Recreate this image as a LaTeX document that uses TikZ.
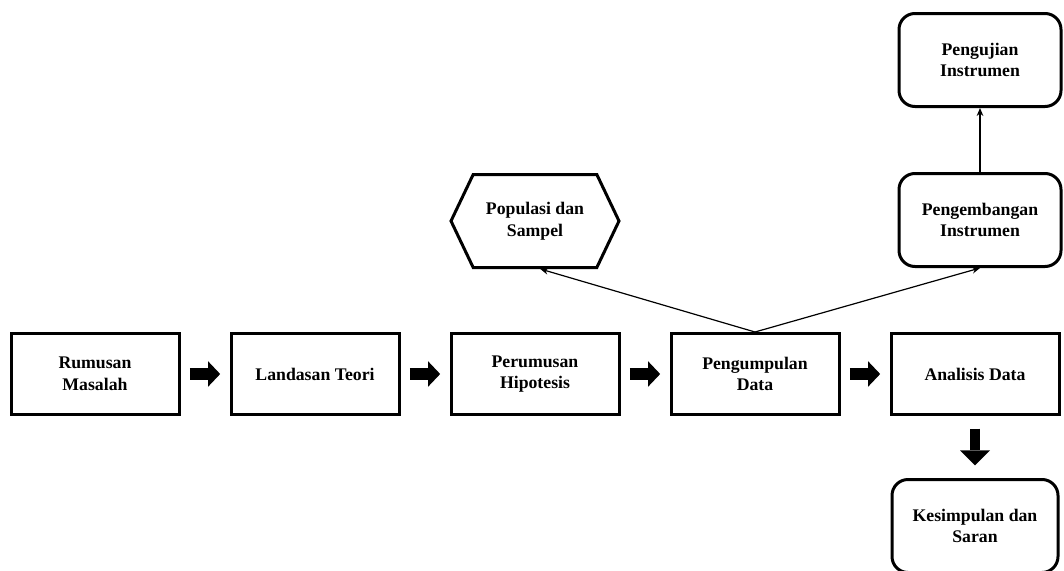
\documentclass[tikz,border=0pt]{standalone}
\usepackage{fontspec}
\setmainfont{Liberation Serif}
\usetikzlibrary{arrows.meta,positioning,shapes.symbols}

\begin{document}
\begin{tikzpicture}[node distance=36.75pt,
  box/.style={draw,line width=2.25pt,minimum width=126pt,minimum height=60.75pt,
    align=center,font=\bfseries\fontsize{13.3}{16.3}\selectfont},
  rbox/.style={box,rounded corners=12pt,minimum width=121.5pt,minimum height=69.75pt},
  hexa/.style={box,signal,signal to=east and west,signal pointer angle=129,minimum height=69.75pt},
  fat/.style={-{Triangle[length=9pt,width=19pt,line width=0pt]},line width=9pt,shorten <=7pt,shorten >=7pt},
  fatv/.style={-{Triangle[length=11.25pt,width=22.5pt,line width=0pt]},line width=7.5pt,shorten <=9.4pt,shorten >=9.4pt},
  thin/.style={-{Stealth[length=6pt,width=5pt]},line width=0.9pt}]
\useasboundingbox (0,0) rectangle (798pt,-428.25pt);
% main row
\node[box] (rm) at (71.25pt,-280.5pt) {Rumusan\\Masalah};
\node[box,right=of rm] (lt) {Landasan Teori};
\node[box,right=of lt] (ph) {Perumusan\\Hipotesis};
\node[box,right=of ph] (pd) {Pengumpulan\\Data};
\node[box,right=of pd] (ad) {Analisis Data};
% branches
\node[hexa,above=47.25pt of ph] (ps) {Populasi dan\\Sampel};
\node[rbox,above=48pt of ad,xshift=3.75pt] (pi) {Pengembangan\\Instrumen};
\node[rbox,above=48pt of pi] (ui) {Pengujian\\Instrumen};
\node[rbox,below=46.5pt of ad,minimum width=124.5pt] (ks) {Kesimpulan dan\\Saran};
% connectors
\draw[fat] (rm) -- (lt);
\draw[fat] (lt) -- (ph);
\draw[fat] (ph) -- (pd);
\draw[fat] (pd) -- (ad);
\draw[fatv] (ad) -- (ks);
\draw[thin] (pd.north) -- ([xshift=4pt]ps.south);
\draw[thin] (pd.north) -- (pi.south);
\draw[thin] (pi) -- (ui);
\end{tikzpicture}
\end{document}
